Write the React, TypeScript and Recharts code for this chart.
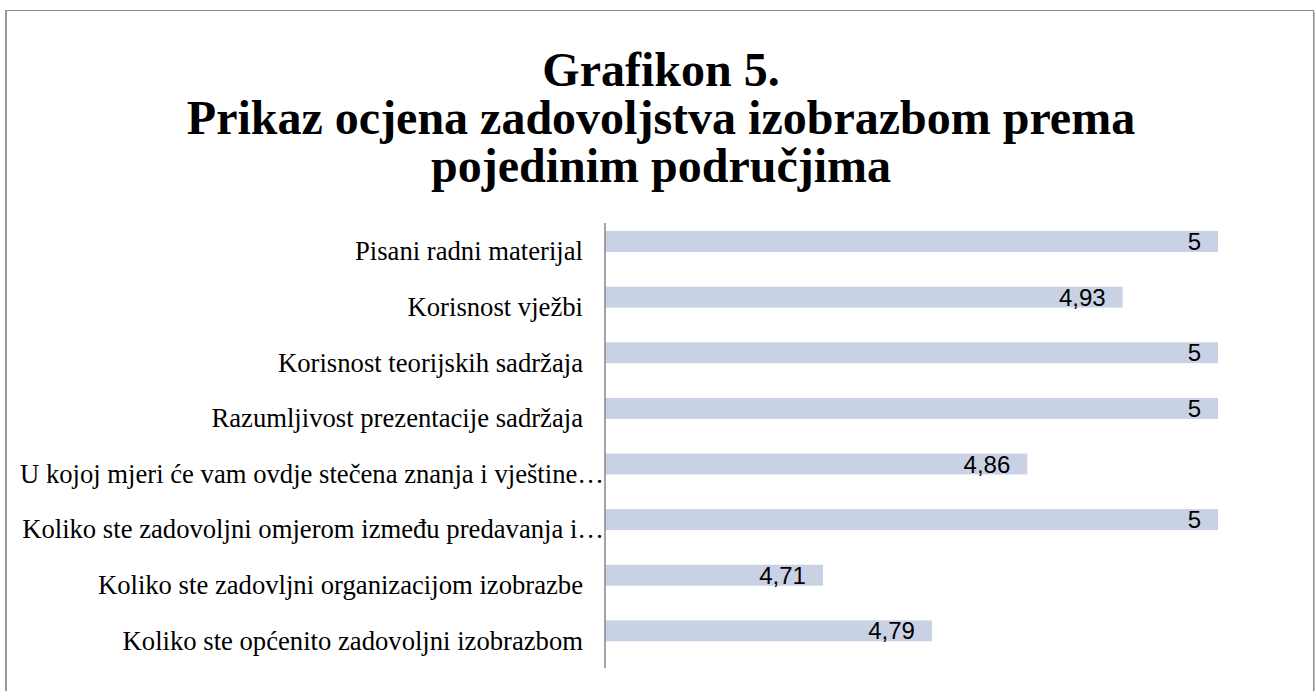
import React from "react";
import { BarChart, Bar, XAxis, YAxis, LabelList } from "recharts";

const categories: string[] = [
  "Pisani radni materijal",
  "Korisnost vježbi",
  "Korisnost teorijskih sadržaja",
  "Razumljivost prezentacije sadržaja",
  "U kojoj mjeri će vam ovdje stečena znanja i vještine…",
  "Koliko ste zadovoljni omjerom između predavanja i…",
  "Koliko ste zadovljni organizacijom izobrazbe",
  "Koliko ste općenito zadovoljni izobrazbom",
];

const scores: number[] = [5, 4.93, 5, 5, 4.86, 5, 4.71, 4.79];

const titleLines: string[] = [
  "Grafikon 5.",
  "Prikaz ocjena zadovoljstva izobrazbom prema",
  "pojedinim područjima",
];

const data = categories.map((name, i) => ({ name, value: scores[i] }));

const fmt = (v: any) => String(v).replace(".", ",");

const BAR_SHIFT = -9;
const SERIF = "'Liberation Serif', 'Times New Roman', serif";

const ShiftedBar = (p: any) => (
  <rect x={p.x} y={p.y + BAR_SHIFT} width={p.width} height={p.height} fill={p.fill} />
);

const ValueLabel = (p: any) => {
  const { x, y, width, height, value } = p;
  return (
    <text
      x={Number(x) + Number(width) - 17}
      y={Number(y) + Number(height) / 2 + BAR_SHIFT}
      textAnchor="end"
      dominantBaseline="central"
      fill="#000"
      fontSize={24}
      fontFamily="'Liberation Sans', Arial, sans-serif"
    >
      {fmt(value)}
    </text>
  );
};

const CategoryTick = (p: any) => {
  const { x, y, payload } = p;
  const label = String(payload.value);
  const extra = label.endsWith("…") ? 21 : 0;
  return (
    <text
      x={Number(x) + extra}
      y={Number(y)}
      dy="0.355em"
      textAnchor="end"
      fill="#000"
      fontSize={26.67}
      fontFamily={SERIF}
    >
      {label}
    </text>
  );
};

export default function App() {
  return (
    <div
      style={{
        position: "absolute",
        left: 0,
        top: 0,
        width: 1315,
        height: 691,
        overflow: "hidden",
        background: "#fff",
      }}
    >
      <div
        style={{
          position: "absolute",
          left: 5,
          top: 10,
          width: 1309,
          height: 720,
          border: "1px solid #8c8c8c",
          borderLeft: "2px solid #9a9a9a",
          boxShadow: "2px 2px 2px rgba(0,0,0,0.25)",
          boxSizing: "border-box",
        }}
      />
      <div
        style={{
          position: "absolute",
          left: 0,
          top: 46,
          width: 1322,
          textAlign: "center",
          fontFamily: SERIF,
          fontWeight: "bold",
          fontSize: 48,
          lineHeight: "48px",
          color: "#000",
          whiteSpace: "nowrap",
        }}
      >
        {titleLines.map((t) => (
          <div key={t}>{t}</div>
        ))}
      </div>
      <div style={{ position: "absolute", left: 0, top: 0 }}>
        <BarChart
          layout="vertical"
          width={1315}
          height={691}
          data={data}
          margin={{ top: 223, right: 97, bottom: 23, left: 0 }}
          barSize={21}
        >
          <XAxis type="number" domain={[4.55, 5]} allowDataOverflow hide />
          <YAxis
            type="category"
            dataKey="name"
            width={605}
            axisLine={{ stroke: "#868686", strokeWidth: 1.5 }}
            tickLine={false}
            tickSize={0}
            tickMargin={22}
            interval={0}
            tick={CategoryTick}
          />
          <Bar
            dataKey="value"
            fill="#c9d1e4"
            isAnimationActive={false}
            shape={ShiftedBar}
          >
            <LabelList dataKey="value" content={ValueLabel} />
          </Bar>
        </BarChart>
      </div>
    </div>
  );
}
